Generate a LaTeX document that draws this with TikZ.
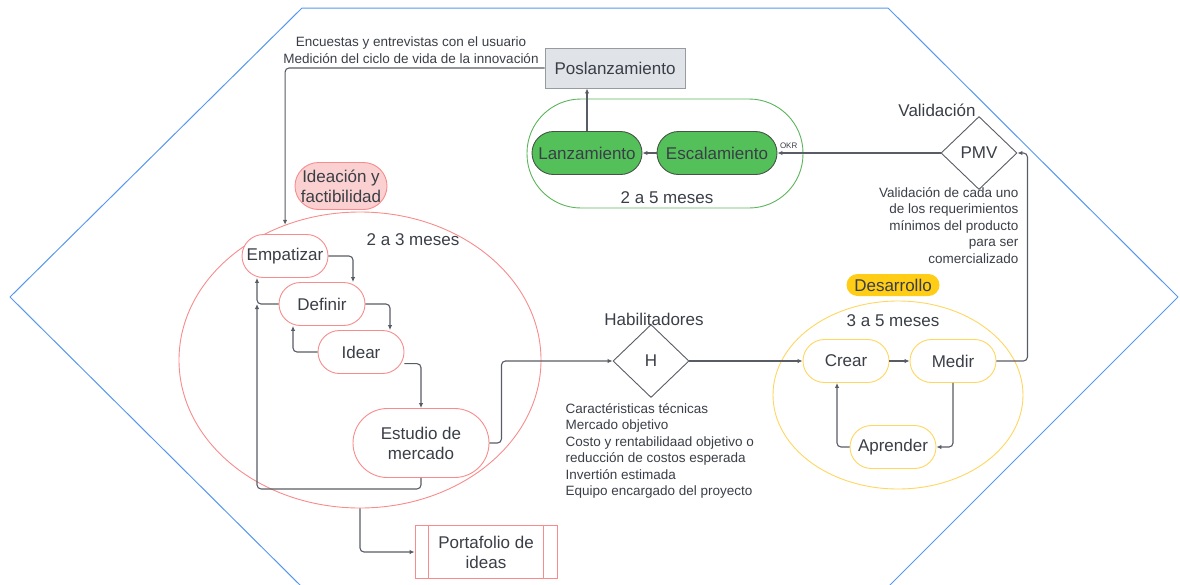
\documentclass[tikz,border=0pt]{standalone}
\usepackage{fontspec}
\setmainfont{Liberation Sans}
\usetikzlibrary{arrows.meta,shapes.geometric}

\definecolor{hexblue}{RGB}{86,152,238}
\definecolor{ideared}{RGB}{248,140,140}
\definecolor{ideafill}{RGB}{250,208,208}
\definecolor{lanzgreen}{RGB}{84,192,90}
\definecolor{lanzedge}{RGB}{70,84,72}
\definecolor{loopgreen}{RGB}{90,180,90}
\definecolor{devyellow}{RGB}{255,214,96}
\definecolor{devfill}{RGB}{255,204,22}
\definecolor{posgray}{RGB}{224,227,232}
\definecolor{posedge}{RGB}{150,155,160}
\definecolor{linegray}{RGB}{88,92,100}
\definecolor{txtgray}{RGB}{58,62,70}

\newcommand{\txtmain}{\fontsize{17}{20}\selectfont}
\newcommand{\txtsmall}{\fontsize{13.5}{16.4}\selectfont}

\begin{document}
\begin{tikzpicture}[
        x=1pt, y=-1pt,
        every node/.style={text=txtgray, font=\txtmain, align=center},
        conn/.style={draw=linegray, line width=1.1pt, rounded corners=4pt,
                -{Latex[length=5pt,width=4.5pt]}},
        redpill/.style={draw=ideared, line width=0.9pt, fill=white,
                minimum width=86pt, minimum height=43pt, rounded corners=21.5pt, inner sep=1pt},
        greenpill/.style={draw=lanzedge, line width=0.9pt, fill=lanzgreen,
                minimum height=43pt, rounded corners=21.5pt, inner sep=1pt},
        yellowpill/.style={draw=devyellow, line width=0.9pt, fill=white,
                minimum width=86pt, minimum height=43pt, rounded corners=21.5pt, inner sep=1pt},
        gate/.style={diamond, draw=linegray, line width=0.9pt, fill=white,
                minimum width=76pt, minimum height=73pt, inner sep=0pt},
        note/.style={font=\txtsmall}
    ]
    \useasboundingbox (0,0) rectangle (1180,584);

    % Frame
    \begin{scope}
        \clip (0,0) rectangle (1180,584);
        \draw[hexblue, line width=1pt, line join=round]
            (302,8) -- (888,8) -- (1178,297) -- (887,588) -- (303,588) -- (10,297) -- cycle;
    \end{scope}

    % Ideacion y factibilidad
    \node[ellipse, draw=ideared, line width=0.9pt, minimum width=362pt, minimum height=296pt] (circ) at (360,360) {};
    \node[draw=ideared, line width=0.9pt, fill=ideafill, minimum width=92pt, minimum height=47pt,
        rounded corners=23.5pt, inner sep=1pt] (ideacion) at (341,186) {Ideación y\\factibilidad};
    \node (meses1) at (413,240) {2 a 3 meses};
    \node[redpill] (empatizar) at (285,256) {Empatizar};
    \node[redpill] (definir) at (322,304) {Definir};
    \node[redpill] (idear) at (361,352) {Idear};
    \node[redpill, minimum width=136pt, minimum height=69pt, rounded corners=34.5pt] (estudio) at (421,443) {Estudio de\\mercado};
    \node[draw=ideared, line width=0.9pt, fill=white, minimum width=142pt, minimum height=53pt] (port) at (486,552) {Portafolio de\\ideas};
    \draw[ideared, line width=0.9pt] ([xshift=14pt]port.north west) -- ([xshift=14pt]port.south west);
    \draw[ideared, line width=0.9pt] ([xshift=-14pt]port.north east) -- ([xshift=-14pt]port.south east);

    \draw[conn] (empatizar.east) -| ([xshift=31pt]definir.north);
    \draw[conn] (definir.east) -| ([xshift=29pt]idear.north);
    \draw[conn] (idear.-15) -| (estudio.north);
    \draw[conn] (definir.west) -| ([xshift=-28pt]empatizar.south);
    \draw[conn] (idear.west) -| ([xshift=-29pt]definir.south);
    \draw[conn] (estudio.south) -- ++(0,11) -| ([xshift=-28pt]empatizar.south |- definir.west);
    \draw[conn] (circ.south) |- (port.west);

    % Habilitadores
    \node[gate] (h) at (651,361) {H};
    \node (habil) at (654,319) {Habilitadores};
    \node[note, anchor=north west, align=left] (habiltxt) at (562,400)
        {Caractéristicas técnicas\\Mercado objetivo\\Costo y rentabilidaad objetivo o\\reducción de costos esperada\\Invertión estimada\\Equipo encargado del proyecto};
    \draw[conn] (estudio.east) -- ++(12,0) |- (h.west);

    % Desarrollo
    \node[ellipse, draw=devyellow, line width=0.9pt, minimum width=250pt, minimum height=188pt] (devcirc) at (898,395) {};
    \node[fill=devfill, minimum width=93pt, minimum height=22pt, rounded corners=11pt, inner sep=1pt] (desarrollo) at (893,285) {Desarrollo};
    \node (meses2) at (893,321) {3 a 5 meses};
    \node[yellowpill] (crear) at (846,361) {Crear};
    \node[yellowpill] (medir) at (953,361) {Medir};
    \node[yellowpill] (aprender) at (893,447) {Aprender};

    \draw[conn] (h.east) -- (crear.west);
    \draw[conn] (crear.east) -- (medir.west);
    \draw[conn] (medir.south) |- (aprender.east);
    \draw[conn] (aprender.west) -| ([xshift=-9pt]crear.south);

    % Validacion
    \node[gate] (pmv) at (979,153) {PMV};
    \node (valid) at (937,110) {Validación};
    \node[note, anchor=north east, align=right] (validtxt) at (1022,184)
        {Validación de cada uno\\de los requerimientos\\mínimos del producto\\para ser\\comercializado};
    \draw[conn] (medir.east) -- ++(31,0) |- (pmv.east);

    % Lanzamiento
    \draw[loopgreen, line width=0.9pt, rounded corners=54pt] (527,99) rectangle (803,208);
    \node[greenpill, minimum width=110pt] (lanz) at (587,153) {Lanzamiento};
    \node[greenpill, minimum width=120pt] (escal) at (717,153) {Escalamiento};
    \node (meses3) at (667,198) {2 a 5 meses};
    \draw[conn] (pmv.west) -- (escal.east) node[font=\fontsize{8}{9}\selectfont, anchor=south west, inner sep=1pt, xshift=1pt, yshift=3pt] (okr) {OKR};
    \draw[conn] (escal.west) -- (lanz.east);

    % Poslanzamiento
    \node[draw=posedge, line width=0.9pt, fill=posgray, minimum width=140pt, minimum height=40pt] (pos) at (615,68) {Poslanzamiento};
    \node[note] (encuestas) at (411,50) {Encuestas y entrevistas con el usuario\\Medición del ciclo de vida de la innovación};
    \draw[conn] (lanz.north) -- (lanz.north |- pos.south);
    \draw[conn] (pos.west) -| (circ.119);
\end{tikzpicture}
\end{document}
